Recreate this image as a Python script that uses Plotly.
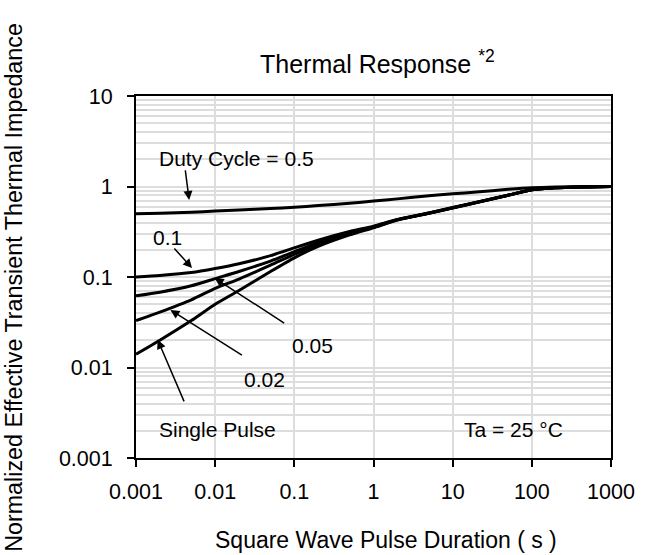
import plotly.graph_objects as go
import math

# Pulse duration (s)
durations = [0.001, 0.002, 0.005, 0.01, 0.02, 0.05, 0.1, 0.2, 0.5, 1, 2, 5, 10, 20, 50, 100, 200, 500, 1000]

# Normalized transient thermal impedance per duty cycle
duty_05 = [0.50, 0.505, 0.52, 0.535, 0.55, 0.57, 0.59, 0.615, 0.655, 0.69, 0.73, 0.79, 0.83, 0.87, 0.93, 0.97, 0.99, 1.0, 1.0]
duty_01 = [0.100, 0.104, 0.112, 0.124, 0.140, 0.172, 0.210, 0.255, 0.318, 0.365, 0.432, 0.51, 0.585, 0.67, 0.80, 0.92, 0.97, 0.99, 1.0]
duty_005 = [0.062, 0.068, 0.080, 0.096, 0.115, 0.150, 0.190, 0.240, 0.308, 0.360, 0.430, 0.509, 0.582, 0.668, 0.80, 0.92, 0.97, 0.99, 1.0]
duty_002 = [0.033, 0.041, 0.056, 0.075, 0.095, 0.135, 0.178, 0.228, 0.300, 0.355, 0.428, 0.507, 0.58, 0.666, 0.80, 0.92, 0.97, 0.99, 1.0]
single = [0.014, 0.020, 0.033, 0.050, 0.071, 0.115, 0.163, 0.218, 0.292, 0.350, 0.425, 0.505, 0.578, 0.664, 0.80, 0.92, 0.97, 0.99, 1.0]

series = [duty_05, duty_01, duty_005, duty_002, single]

# tick labels
x_ticks = [0.001, 0.01, 0.1, 1, 10, 100, 1000]
x_labels = ["0.001", "0.01", "0.1", "1", "10", "100", "1000"]
y_ticks = [0.001, 0.01, 0.1, 1, 10]
y_labels = ["0.001", "0.01", "0.1", "1", "10"]

FONT = "Liberation Sans, Arial, sans-serif"
GRID = "#dddddd"

fig = go.Figure()
for s in series:
    fig.add_trace(go.Scatter(x=durations, y=s, mode="lines",
                             line=dict(color="black", width=3, shape="spline", smoothing=0.6),
                             showlegend=False, hoverinfo="skip"))

# text labels: (text, x, y)
labels = [
    ("Duty Cycle = 0.5", 0.0185, 2.05),
    ("0.1", 0.00251, 0.273),
    ("0.05", 0.172, 0.0177),
    ("0.02", 0.0424, 0.0074),
    ("Single Pulse", 0.0108, 0.00205),
    ("Ta = 25 \u00b0C", 58.9, 0.00205),
]
# arrows: (tip x, tip y, tail offset px x, tail offset px y)
arrows = [
    (0.00469, 0.71, -4, -31),
    (0.0051, 0.1256, -19, -21),
    (0.00986, 0.0975, 71, 46),
    (0.00272, 0.0432, 73, 46),
    (0.00188, 0.0202, 27, 63),
]

annotations = []
for txt, x, y in labels:
    annotations.append(dict(x=math.log10(x), y=math.log10(y), xref="x", yref="y",
                            text=txt, showarrow=False,
                            font=dict(family=FONT, size=21, color="black")))
for x, y, ax, ay in arrows:
    annotations.append(dict(x=math.log10(x), y=math.log10(y), xref="x", yref="y",
                            text="", showarrow=True, ax=ax, ay=ay,
                            arrowhead=2, arrowsize=1.2, arrowwidth=1.5, arrowcolor="black",
                            standoff=0))
# chart title
annotations.append(dict(x=0.508, y=1.0, xref="paper", yref="paper", yanchor="bottom", yshift=16,
                        text="Thermal Response <sup>*2</sup>", showarrow=False,
                        font=dict(family=FONT, size=25, color="black")))
# axis titles
annotations.append(dict(x=0.526, y=0, xref="paper", yref="paper", yanchor="middle", yshift=-82,
                        text="Square Wave Pulse Duration ( s )", showarrow=False,
                        font=dict(family=FONT, size=23, color="black")))
annotations.append(dict(x=0, y=0.47, xref="paper", yref="paper", xanchor="center", xshift=-122,
                        textangle=-90,
                        text="Normalized Effective Transient Thermal Impedance", showarrow=False,
                        font=dict(family=FONT, size=23.3, color="black")))

fig.update_layout(
    width=647, height=555,
    margin=dict(l=136, r=28, t=96, b=97),
    paper_bgcolor="white", plot_bgcolor="white",
    font=dict(family=FONT, size=21, color="black"),
    annotations=annotations,
    xaxis=dict(type="log", range=[-3, 3], tickvals=x_ticks, ticktext=x_labels,
               tickfont=dict(family=FONT, size=21.5),
               showgrid=True, gridcolor=GRID, gridwidth=1.5,
               showline=True, linecolor="black", linewidth=2, mirror=True,
               ticks="outside", ticklen=7, tickcolor="black", tickwidth=1.5,
               ticklabelstandoff=6,
               zeroline=False),
    yaxis=dict(type="log", range=[-3, 1], tickvals=y_ticks, ticktext=y_labels,
               tickfont=dict(family=FONT, size=21.5),
               showgrid=True, gridcolor=GRID, gridwidth=1.5,
               minor=dict(showgrid=True, gridcolor=GRID, gridwidth=1.5,
                          tickvals=[m * 10 ** e for e in range(-3, 1) for m in range(2, 10)]),
               showline=True, linecolor="black", linewidth=2, mirror=True,
               ticks="outside", ticklen=7, tickcolor="black", tickwidth=1.5,
               ticklabelstandoff=10,
               zeroline=False),
)

fig.write_html("out.html")
